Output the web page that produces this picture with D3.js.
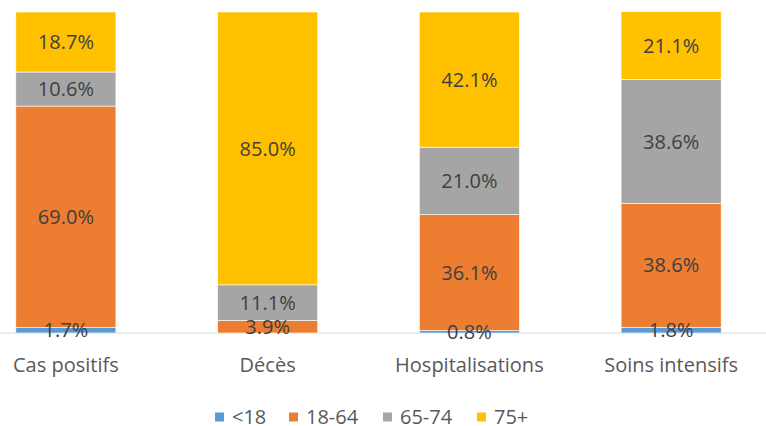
<!DOCTYPE html>
<html>
<head>
<meta charset="utf-8">
<script src="https://cdn.jsdelivr.net/npm/d3@7"></script>
<style>
  body { margin: 0; background: #fff; }
  text { font-family: "Open Sans", "Noto Sans", sans-serif; }
</style>
</head>
<body>
<div id="chart"></div>
<script>
// categories and age groups
const categories = ['Cas positifs', 'Décès', 'Hospitalisations', 'Soins intensifs'];
const groups = ['<18', '18-64', '65-74', '75+'];
const colors = ['#5b9bd5', '#ed7d31', '#a5a5a5', '#ffc000'];

// share (%) per age group, same order as categories
const under18 = [1.7, 0.0, 0.8, 1.8];
const age18to64 = [69.0, 3.9, 36.1, 38.6];
const age65to74 = [10.6, 11.1, 21.0, 38.6];
const age75plus = [18.7, 85.0, 42.1, 21.1];

const width = 766;
const height = 426;

const rows = categories.map((c, i) => ({
    cat: c,
    '<18': under18[i],
    '18-64': age18to64[i],
    '65-74': age65to74[i],
    '75+': age75plus[i],
}));

const stack = d3.stack().keys(groups)(rows);

const svg = d3.select('#chart').append('svg')
    .attr('width', width)
    .attr('height', height);

const x = d3.scaleBand()
    .domain(categories)
    .range([-35, 772])
    .paddingInner(0.504)
    .paddingOuter(0.252);

const y = d3.scaleLinear().domain([0, 100]).range([333, 12]);

// axis line (under bars and labels)
svg.append('line')
    .attr('x1', 0).attr('x2', width)
    .attr('y1', y(0)).attr('y2', y(0))
    .attr('stroke', '#d9d9d9')
    .attr('stroke-width', 1);

// bars
const layer = svg.selectAll('.layer')
    .data(stack)
    .join('g')
    .attr('class', 'layer')
    .attr('fill', (d, i) => colors[i]);

layer.selectAll('rect')
    .data(d => d)
    .join('rect')
    .attr('x', d => x(d.data.cat))
    .attr('width', x.bandwidth())
    .attr('y', d => y(d[1]))
    .attr('height', d => y(d[0]) - y(d[1]))
    .attr('stroke', '#fff')
    .attr('stroke-width', 0.6);

// value labels
svg.append('g')
    .selectAll('text')
    .data(stack.flatMap(s => s.filter(p => p[1] - p[0] > 0)))
    .join('text')
    .attr('x', d => x(d.data.cat) + x.bandwidth() / 2)
    .attr('y', d => (y(d[0]) + y(d[1])) / 2)
    .attr('dy', '0.36em')
    .attr('text-anchor', 'middle')
    .attr('fill', '#404040')
    .attr('font-size', 20)
    .text(d => (d[1] - d[0]).toFixed(1) + '%');

// category labels
svg.append('g')
    .selectAll('text')
    .data(categories)
    .join('text')
    .attr('x', d => x(d) + x.bandwidth() / 2)
    .attr('y', 365)
    .attr('dy', '0.36em')
    .attr('text-anchor', 'middle')
    .attr('fill', '#595959')
    .attr('font-size', 20)
    .text(d => d);

// legend
const legendX = [215, 289, 383, 477];
const legend = svg.append('g')
    .selectAll('g')
    .data(groups)
    .join('g')
    .attr('transform', (d, i) => `translate(${legendX[i]}, 417)`);

legend.append('rect')
    .attr('y', -4.5)
    .attr('width', 9)
    .attr('height', 9)
    .attr('fill', (d, i) => colors[i]);

legend.append('text')
    .attr('x', 17)
    .attr('dy', '0.36em')
    .attr('fill', '#595959')
    .attr('font-size', 20)
    .text(d => d);
</script>
</body>
</html>
